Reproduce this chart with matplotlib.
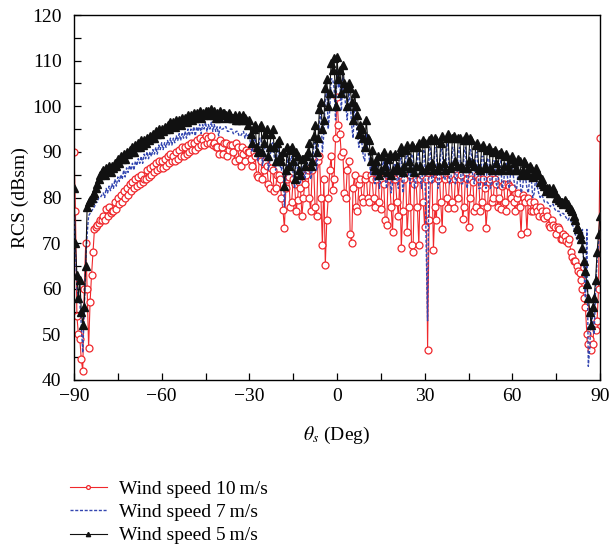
import numpy as np
import matplotlib
matplotlib.use("Agg")
import matplotlib.pyplot as plt
from matplotlib.ticker import MultipleLocator

plt.rcParams['font.family'] = ['Liberation Serif', 'DejaVu Serif']
plt.rcParams['mathtext.fontset'] = 'stix'

# angles: whole degrees and half degrees
theta = np.arange(-90, 90.5, 0.5)

# 5 m/s, values at whole degrees -90..90
rcs_5_int = [
    82, 63, 62, 52, 65, 79, 80, 81, 83, 85,
    86, 86.5, 87, 87, 87.5, 88.5, 89, 89.5, 90, 90.5,
    91, 91.5, 92, 92.5, 92.5, 93, 93.5, 94, 94.5, 95,
    95, 95.5, 96, 96.5, 96.5, 97, 97, 97.5, 97.5, 98,
    98, 98.5, 98.5, 99, 98.5, 99, 99, 99.5, 99, 98.5,
    99, 98.5, 98, 98.5, 97.5, 98, 97, 97.5, 98, 97,
    97, 92, 96, 90, 96, 92, 95, 91, 95, 88,
    92.5, 88, 82.5, 91, 90.5, 88, 90, 86, 88.5, 87,
    90, 87, 93.5, 90, 99.5, 95, 104, 100, 109.5, 110.5,
    110.8, 108, 109, 104, 105, 101, 103, 98, 96, 93,
    97, 92.5, 90.5, 86, 89, 86, 90, 85.5, 89.5, 86,
    89.5, 86, 91, 87, 91.5, 86.5, 91, 87, 92, 86,
    92, 87, 93, 86, 92.5, 87, 93.5, 86, 94, 87,
    93.5, 87, 93, 86.5, 93.5, 88, 92.5, 87, 92, 86,
    91.5, 86.5, 91, 86, 90.5, 86, 90, 87, 89.5, 86,
    89, 86, 88.5, 85, 88, 85.5, 87, 84.5, 86.5, 85,
    84, 82.5, 82, 81, 82, 80, 79.5, 79, 79.5, 78.5,
    77.5, 76, 73.5, 72, 69, 64, 58, 52, 58, 68, 76,
]
# 5 m/s, values at half degrees -89.5..89.5
rcs_5_half = [
    70, 58, 55, 56, 78, 79.5, 80.5, 82, 84, 85.5,
    85, 86, 85.5, 86.5, 87, 87.5, 88.5, 88.5, 89.5, 90,
    90, 91, 91, 91.5, 92, 92.5, 93, 93, 94, 94,
    94.5, 95, 95, 96, 95.5, 96.5, 96, 97, 96.5, 97.5,
    97, 97.5, 98, 97.5, 98, 98.5, 98, 98, 97.5, 97.5,
    98, 98.5, 97.5, 98, 97.5, 97, 98, 97, 97.5, 96,
    94, 95, 91, 95.5, 90, 94, 89, 94, 91, 92,
    89, 90, 86, 87, 91, 84, 89, 85, 88.5, 89,
    92, 88, 96, 93, 101, 97, 106, 103, 108, 100,
    106, 103, 105, 100, 104, 97, 100, 94, 95, 91,
    93, 88, 87, 88, 85, 89, 87, 88.5, 85, 89,
    87, 90, 85.5, 90.5, 88, 91.5, 85.5, 91, 87, 92.5,
    86, 92.5, 87.5, 93, 86, 92, 87.5, 93, 86.5, 93,
    88, 93, 87, 92.5, 86.5, 93, 87.5, 91.5, 86.5, 91,
    87, 90.5, 86.5, 90, 87.5, 89.5, 86, 89, 87, 88.5,
    87.5, 86, 88, 86, 87.5, 85, 86.5, 85.5, 85, 83.5,
    83, 81.5, 82, 81.5, 81, 80, 79, 78.5, 79, 78,
    77, 75, 73, 71, 66, 61, 55, 56, 62, 72,
]

# 7 m/s
rcs_7_int = [
    80, 60, 57, 46, 66, 76, 77, 78, 79, 80,
    81, 82, 82.5, 83, 84, 84.5, 85, 86, 86.5, 87,
    87.5, 88, 88.5, 89, 89.5, 90, 90, 90.5, 91, 91.5,
    92, 92, 92.5, 93, 93, 93.5, 94, 94, 94.5, 95,
    95, 95.5, 95.5, 96, 96, 96.5, 96, 96.5, 96, 95.5,
    95.5, 95, 95.5, 94.5, 95, 94, 94.5, 93.5, 94.5, 94,
    94, 90, 93, 88, 93, 89, 92, 88, 92, 86,
    91, 86, 78, 89, 88.5, 85, 88, 83, 87, 84,
    88, 84, 91, 86, 97, 90, 102, 95, 106, 104,
    108, 105, 107, 100, 103, 96, 100, 94, 93.5, 89,
    94, 89, 88.5, 83, 87.5, 84, 88, 82, 87.5, 83,
    87.5, 82, 89, 84, 89.5, 83, 89, 83.5, 90, 82,
    90, 53, 91, 84, 90.5, 83, 91, 84, 92, 84,
    91, 84, 91, 83, 91, 84, 90, 83, 90, 82,
    89, 82, 88.5, 83, 88, 82, 88, 83, 87.5, 82,
    86.5, 82, 86, 81, 85.5, 82, 85, 80, 84.5, 81,
    80.5, 79, 79, 78, 78.5, 77, 77, 76.5, 76, 75,
    75, 73.5, 71, 70, 73, 58, 43, 55, 50, 66, 73,
]
rcs_7_half = [
    68, 58, 52, 55, 72, 76.5, 77.5, 79, 80, 80.5,
    80, 81, 81.5, 82, 82.5, 83.5, 84, 84.5, 85.5, 86,
    86, 87, 87.5, 87.5, 88.5, 88.5, 89, 89.5, 89.5, 90.5,
    90.5, 91, 91.5, 91.5, 92, 92.5, 92.5, 93, 93, 93.5,
    94, 93.5, 94.5, 94, 95, 94.5, 95, 94.5, 94.5, 93.5,
    95, 95.5, 94.5, 95, 94, 94.5, 93.5, 94, 93, 93.5,
    91, 92.5, 89, 93, 87, 92, 86, 91.5, 89, 90,
    87, 89, 84, 85, 89, 82, 87, 83, 87, 86,
    90, 86, 94, 90, 99, 94, 104, 99, 106, 97,
    104, 99, 103, 97, 101, 93, 97, 91, 92, 88,
    90, 85, 85.5, 86, 82, 87, 84, 86.5, 81, 87,
    84, 88, 81, 88.5, 85, 89.5, 82, 89, 84, 90.5,
    70, 90.5, 83, 91, 82, 90, 84, 91, 83, 91,
    83, 90.5, 83, 90, 82, 90.5, 84, 89.5, 82, 89,
    83, 88.5, 82, 88, 83, 87.5, 82, 87, 83, 86.5,
    84, 82, 85, 82, 84.5, 81, 84, 81, 82.5, 80,
    80, 79, 78.5, 78.5, 77.5, 77, 76, 76.5, 75.5, 75.5,
    74, 72, 70.5, 72, 64, 73, 47, 53, 60, 70,
]

# 10 m/s
rcs_10_int = [
    90, 54, 49, 42, 70, 47, 63, 73, 74, 75,
    76, 77.5, 78, 77, 79, 80, 80.5, 81.5, 82, 83,
    83.5, 84, 84.5, 85, 84, 86, 86.5, 87, 87.5, 88,
    88, 88.5, 89, 89.5, 89, 90, 90.5, 91, 91, 91.5,
    92, 92, 92.5, 93, 92.5, 93.5, 93, 93.5, 92, 91,
    92.5, 89.5, 92, 90.5, 91.5, 88, 91, 87, 89.5, 90.5,
    90, 87, 89, 84.5, 88, 86, 87, 82, 86, 82,
    85, 80, 73.3, 84, 78, 84, 77, 83.5, 76, 83,
    86, 77, 87, 76, 89, 69.6, 65.2, 80, 89, 84,
    102, 94, 90, 80, 88, 70, 85, 77, 84, 79,
    85, 79, 84, 78, 85, 77.5, 83, 74, 84, 72.4,
    84, 76, 69, 84, 72.4, 85, 68, 84, 69.6, 85,
    73.5, 46.6, 84, 68.6, 75, 85, 73, 84, 77.7, 85,
    77.7, 85, 84, 75.3, 85.5, 73.5, 84, 77, 85, 77,
    84, 73.3, 83.5, 79, 84, 78, 77.5, 83, 77, 82.5,
    82, 77, 81, 72, 80, 72.5, 79, 77, 78, 76,
    77, 75.5, 76, 73.5, 74, 72, 73, 71, 71.5, 70,
    68, 66, 65, 63.5, 60, 56, 48, 46.6, 52, 53, 93,
]
rcs_10_half = [
    77, 50, 44.5, 60, 60, 57, 68, 73.5, 74.5, 75,
    75, 76, 76.5, 77, 77.5, 78.5, 79, 80, 80.5, 81.5,
    82, 82.5, 83, 83.5, 84, 84.5, 85, 85.5, 86, 86.5,
    86.5, 87, 87.5, 88, 88, 88.5, 89, 89, 89.5, 90,
    90.5, 90.5, 91, 91.5, 91.5, 92, 92, 91.5, 91, 89.5,
    91, 92, 89, 91.5, 90, 92, 88.5, 91, 88, 90,
    88.5, 90, 85, 89, 84, 87.5, 83, 86.5, 81.5, 85,
    84, 77.3, 82, 84.5, 79, 83, 79.5, 82, 80, 85,
    80, 86, 78, 88, 80, 84, 75, 86, 81.6, 93,
    96, 89, 81, 86, 72, 82, 78, 83, 80, 84,
    80, 85, 80, 84, 79, 84, 75, 85, 78, 84,
    79, 85, 77, 85.5, 78, 69.6, 83, 78, 84, 79,
    84, 75, 85.5, 78, 84, 79, 85, 80, 84, 79,
    84, 80, 85, 78, 84, 80, 83.5, 78, 84, 79,
    82, 78, 84, 80, 83, 80, 82.5, 79, 83, 80,
    79, 80, 78, 80.5, 79, 80, 77, 79, 77, 78,
    76, 77, 74, 75, 73.5, 73.5, 71, 72, 70.5, 71,
    67, 66, 64, 62, 58, 50, 49, 48, 51, 60,
]

labels = ["Wind speed 10\u2009m/s", "Wind speed 7\u2009m/s", "Wind speed 5\u2009m/s"]
xticks = [-90, -60, -30, 0, 30, 60, 90]
yticks = [40, 50, 60, 70, 80, 90, 100, 110, 120]


def merge(whole, half):
    out = np.empty(len(whole) + len(half))
    out[0::2] = whole
    out[1::2] = half
    return out


rcs_5 = merge(rcs_5_int, rcs_5_half)
rcs_7 = merge(rcs_7_int, rcs_7_half)
rcs_10 = merge(rcs_10_int, rcs_10_half)

W, H = 611, 546
fig = plt.figure(figsize=(W / 100, H / 100), dpi=100)
ax = fig.add_axes([74 / W, 1 - 380 / H, (600 - 74) / W, (380 - 15) / H])

red = '#f0282c'
blue = '#3346b0'
black = '#111111'

ax.plot(theta, rcs_10, color=red, lw=0.8, marker='o', ms=5.0, mfc='white',
        mec=red, mew=0.9, label=labels[0], zorder=2)
ax.plot(theta, rcs_7, color=blue, lw=1.0, ls=(0, (2.2, 1.2)), label=labels[1], zorder=3)
ax.plot(theta, rcs_5, color=black, lw=0.8, marker='^', ms=5.6, mfc=black,
        mec=black, label=labels[2], zorder=4)

ax.set_xlim(-90, 90)
ax.set_ylim(40, 120)
ax.set_xticks(xticks)
ax.set_yticks(yticks)
ax.xaxis.set_minor_locator(MultipleLocator(15))
ax.yaxis.set_minor_locator(MultipleLocator(5))
ax.tick_params(which='both', direction='in', top=False, right=False,
               labelsize=14, length=5, width=0.9)
ax.tick_params(axis='x', pad=6)
ax.tick_params(axis='y', pad=9)
for s in ax.spines.values():
    s.set_linewidth(1.0)

ax.set_ylabel("RCS (dBsm)", fontsize=14, labelpad=2)
ax.set_xlabel(r"$\theta_s$ (Deg)", fontsize=14, labelpad=14)

handles, labs = ax.get_legend_handles_labels()
fig.legend(handles, labs, loc='upper left', bbox_to_anchor=(70 / W, 1 - 480 / H),
           frameon=False, fontsize=14, handlelength=1.9, handletextpad=0.6,
           labelspacing=0.3, borderpad=0, borderaxespad=0, markerscale=0.55,
           numpoints=1)

fig.savefig("out.png", dpi=100)
